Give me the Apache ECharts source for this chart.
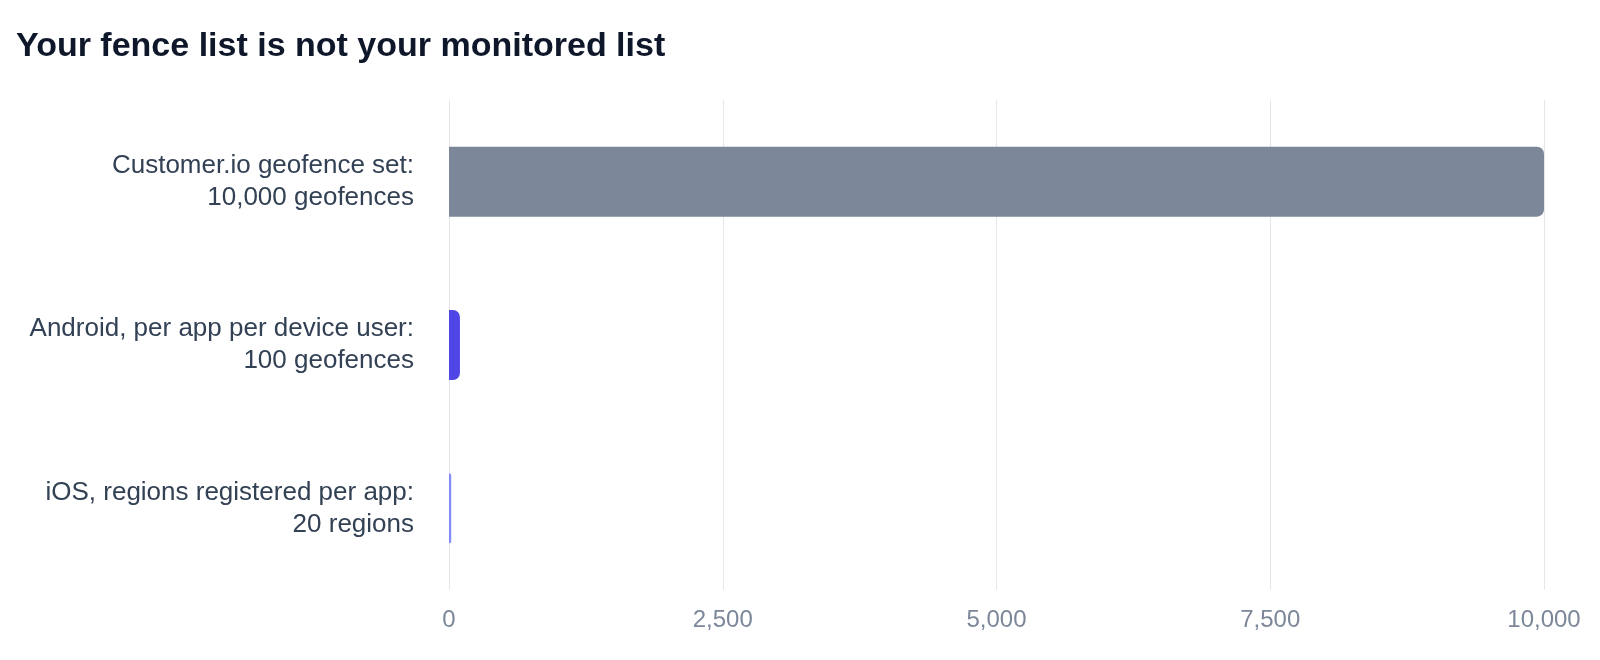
<!DOCTYPE html>
<html><head><meta charset="utf-8">
<script src="https://cdn.jsdelivr.net/npm/echarts@6/dist/echarts.min.js"></script>
<style>html,body{margin:0;padding:0;background:#fff}#c{width:1600px;height:660px}</style>
</head><body><div id="c"></div>
<script>
var categories = ['Customer.io geofence set:\n10,000 geofences', 'Android, per app per device user:\n100 geofences', 'iOS, regions registered per app:\n20 regions'];
var values = [10000, 100, 20];
var colors = ['#7c8799', '#4f46e5', '#818cf8'];
var xTicks = [0, 2500, 5000, 7500, 10000];

var chart = echarts.init(document.getElementById('c'));
chart.setOption({
  animation: false,
  backgroundColor: '#ffffff',
  title: {
    text: 'Your fence list is not your monitored list',
    left: 11, top: 25,
    textStyle: { fontFamily: 'Liberation Sans', fontSize: 34, fontWeight: 'bold', color: '#0f172a' }
  },
  grid: { left: 449, right: 56, top: 100, bottom: 70, containLabel: false },
  xAxis: {
    type: 'value', min: 0, max: 10000, interval: 2500,
    axisLine: { show: false }, axisTick: { show: false },
    splitLine: { lineStyle: { color: '#e5e7eb', width: 1 } },
    axisLabel: { fontFamily: 'Liberation Sans', fontSize: 24, color: '#7c8799', margin: 18,
      formatter: function (v) { return v.toLocaleString('en-US'); } }
  },
  yAxis: {
    type: 'category', inverse: true, data: categories,
    axisLine: { show: false }, axisTick: { show: false },
    axisLabel: { fontFamily: 'Liberation Sans', fontSize: 26, color: '#334155', lineHeight: 32, margin: 35, align: 'right',
      backgroundColor: 'rgba(255,255,255,0)', padding: [6, 0, 0, 0] }
  },
  series: [{
    type: 'bar', barWidth: 70,
    data: values.map(function (v, i) { return { value: v, itemStyle: { color: colors[i] } }; }),
    itemStyle: { borderRadius: [0, 7, 7, 0] }
  }]
});
</script></body></html>
